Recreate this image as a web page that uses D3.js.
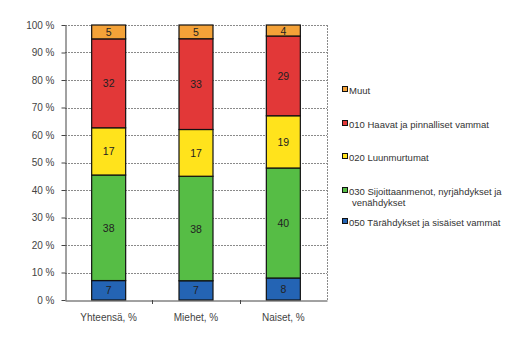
<!DOCTYPE html>
<html>
<head>
<meta charset="utf-8">
<script src="https://cdn.jsdelivr.net/npm/d3@7"></script>
<style>
  html, body { margin: 0; padding: 0; background: #fff; }
  svg { display: block; font-family: "Liberation Sans", Arial, sans-serif; }
</style>
</head>
<body>
<svg id="chart" width="520" height="341"></svg>
<script>
// Categories along the x axis
const categories = ["Yhteensä, %", "Miehet, %", "Naiset, %"];

// Injury types, bottom to top of each stack
const seriesNames = [
  "050 Tärähdykset ja sisäiset vammat",
  "030 Sijoittaanmenot, nyrjähdykset ja venähdykset",
  "020 Luunmurtumat",
  "010 Haavat ja pinnalliset vammat",
  "Muut"
];
const seriesColors = ["#2464b4", "#56bd45", "#ffe31c", "#e23838", "#f4a238"];

// Shares (%) per series, in category order
const v050 = [7, 7, 8];
const v030 = [38, 38, 40];
const v020 = [17, 17, 19];
const v010 = [32, 33, 29];
const vMuut = [5, 5, 4];
const seriesValues = [v050, v030, v020, v010, vMuut];

const yTicks = [0, 10, 20, 30, 40, 50, 60, 70, 80, 90, 100];

const svg = d3.select("#chart");
const plot = { left: 65, right: 327, top: 25, bottom: 300 };

const x = d3.scaleBand().domain(categories).range([plot.left, plot.right]).paddingInner(0).paddingOuter(0);
const y = d3.scaleLinear().domain([0, 100]).range([plot.bottom, plot.top]);
const barW = 34;

// Build rows for a 100 % stack
const rows = categories.map((c, i) => {
  const r = { cat: c };
  const total = d3.sum(seriesValues, s => s[i]);
  seriesNames.forEach((n, k) => { r[n] = seriesValues[k][i] / total * 100; r[n + "_label"] = seriesValues[k][i]; });
  return r;
});
const stacked = d3.stack().keys(seriesNames)(rows);

// Gridlines
svg.append("g").selectAll("line").data(yTicks.slice(1)).join("line")
  .attr("x1", plot.left).attr("x2", plot.right)
  .attr("y1", d => Math.round(y(d)) + 0.5).attr("y2", d => Math.round(y(d)) + 0.5)
  .attr("stroke", "#8a8a8a").attr("stroke-width", 1).attr("stroke-dasharray", "2,1");
// Right border of plot area
svg.append("line")
  .attr("x1", plot.right + 0.5).attr("x2", plot.right + 0.5)
  .attr("y1", plot.top).attr("y2", plot.bottom)
  .attr("stroke", "#8a8a8a").attr("stroke-dasharray", "2,1");

// Bars
const layer = svg.append("g").selectAll("g").data(stacked).join("g")
  .attr("fill", (d, i) => seriesColors[i]);
layer.selectAll("rect").data(d => d.map(p => ({ p, key: d.key }))).join("rect")
  .attr("x", d => x(d.p.data.cat) + x.bandwidth() / 2 - barW / 2)
  .attr("y", d => y(d.p[1]))
  .attr("width", barW)
  .attr("height", d => y(d.p[0]) - y(d.p[1]))
  .attr("stroke", "#111").attr("stroke-width", 1.2);

// Value labels
layer.selectAll("text").data(d => d.map(p => ({ p, key: d.key }))).join("text")
  .attr("x", d => x(d.p.data.cat) + x.bandwidth() / 2)
  .attr("y", d => (y(d.p[0]) + y(d.p[1])) / 2 + 4)
  .attr("text-anchor", "middle")
  .attr("font-size", 10.5).attr("fill", "#222")
  .text(d => d.p.data[d.key + "_label"]);

// Y axis
const yAxis = svg.append("g").attr("transform", `translate(${plot.left + 0.5},0)`)
  .call(d3.axisLeft(y).tickValues(yTicks).tickSize(4).tickSizeOuter(0).tickFormat(d => d + " %"));
yAxis.select(".domain").attr("stroke", "#444");
yAxis.selectAll(".tick line").attr("stroke", "#444");
yAxis.selectAll(".tick text").attr("font-size", 10).attr("fill", "#444")
  .attr("font-family", "Liberation Sans, Arial, sans-serif").attr("x", -11);

// X axis
const xAxis = svg.append("g").attr("transform", `translate(0,${plot.bottom + 0.5})`)
  .call(d3.axisBottom(x).tickSize(0).tickSizeOuter(0));
xAxis.select(".domain").attr("stroke", "#444");
xAxis.selectAll(".tick text").attr("font-size", 10).attr("fill", "#444")
  .attr("font-family", "Liberation Sans, Arial, sans-serif").attr("dy", 0).attr("y", 20);
// Category separators on the x axis
svg.append("g").selectAll("line").data(categories.slice(1)).join("line")
  .attr("x1", d => Math.round(x(d)) + 0.5).attr("x2", d => Math.round(x(d)) + 0.5)
  .attr("y1", plot.bottom).attr("y2", plot.bottom + 4)
  .attr("stroke", "#444");

// Legend (top entry = top of stack)
const legendItems = [
  { k: 4, lines: ["Muut"], y: 90 },
  { k: 3, lines: ["010 Haavat ja pinnalliset vammat"], y: 124 },
  { k: 2, lines: ["020 Luunmurtumat"], y: 157 },
  { k: 1, lines: ["030 Sijoittaanmenot, nyrjähdykset ja", "venähdykset"], y: 191 },
  { k: 0, lines: ["050 Tärähdykset ja sisäiset vammat"], y: 222 }
];
const leg = svg.append("g").selectAll("g").data(legendItems).join("g");
leg.append("rect")
  .attr("x", 342.5).attr("y", d => d.y - 3.5).attr("width", 5).attr("height", 5)
  .attr("fill", d => seriesColors[d.k]).attr("stroke", "#111").attr("stroke-width", 1);
leg.append("text")
  .attr("x", 349).attr("y", d => d.y + 3.5)
  .attr("font-size", 9.5).attr("fill", "#333")
  .selectAll("tspan").data(d => d.lines).join("tspan")
  .attr("x", (l, i) => i === 0 ? 349 : 352)
  .attr("dy", (l, i) => i === 0 ? 0 : 11)
  .text(l => l);
</script>
</body>
</html>
